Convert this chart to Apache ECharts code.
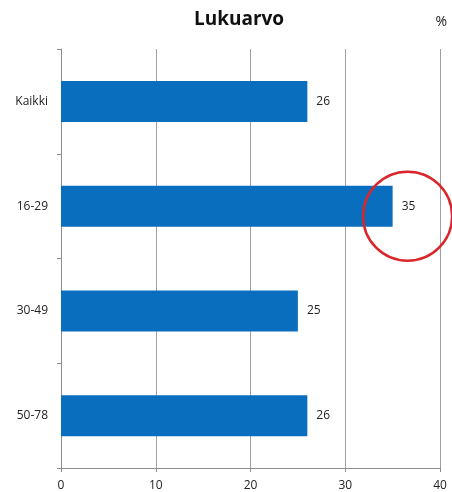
<!DOCTYPE html>
<html><head><meta charset="utf-8">
<script src="https://cdn.jsdelivr.net/npm/echarts@6/dist/echarts.min.js"></script>
<style>html,body{margin:0;padding:0;background:#fff}#c{width:452px;height:492px}</style>
</head><body><div id="c"></div>
<script>
const categories = ['Kaikki', '16-29', '30-49', '50-78'];
const values = [26, 35, 25, 26];
const xTicks = [0, 10, 20, 30, 40];
const highlightCategory = '16-29';
const highlightValue = 35;

const font = '"Open Sans", "Liberation Sans", sans-serif';
const chart = echarts.init(document.getElementById('c'));
chart.setOption({
  animation: false,
  backgroundColor: '#fff',
  title: [{
    text: 'Lukuarvo', left: 234, top: 5, textAlign: 'center',
    textStyle: {fontFamily: font, fontSize: 19, fontWeight: 'bold', color: '#111'}
  }, {
    text: '%', right: 0, top: 10,
    textStyle: {fontFamily: font, fontSize: 14, fontWeight: 'normal', color: '#222'}
  }],
  grid: {left: 61, right: 12, top: 49, bottom: 24, containLabel: false},
  xAxis: {
    type: 'value', min: xTicks[0], max: xTicks[xTicks.length - 1], interval: 10,
    axisLine: {show: true, lineStyle: {color: '#8c8c8c'}},
    axisTick: {show: true, length: 4, lineStyle: {color: '#8c8c8c'}},
    axisLabel: {fontFamily: font, fontSize: 12, color: '#222', margin: 12},
    splitLine: {show: true, lineStyle: {color: '#a0a0a0', width: 1}}
  },
  yAxis: {
    type: 'category', data: categories, inverse: true,
    axisLine: {show: true, lineStyle: {color: '#8c8c8c'}},
    axisTick: {show: true, length: 4, alignWithLabel: false, lineStyle: {color: '#8c8c8c'}},
    axisLabel: {fontFamily: font, fontSize: 12, color: '#222', margin: 13}
  },
  series: [{
    type: 'bar', data: values, barWidth: 41,
    itemStyle: {color: '#0a6ebf'},
    label: {show: true, position: 'right', distance: 9, fontFamily: font, fontSize: 12, color: '#222'},
    markPoint: {
      silent: true,
      data: [{coord: [highlightValue, highlightCategory]}],
      symbol: 'circle', symbolSize: 89, symbolOffset: [15, 10],
      itemStyle: {color: 'rgba(0,0,0,0)', borderColor: '#d9262a', borderWidth: 2.5},
      label: {show: false}
    }
  }]
});
</script></body></html>
